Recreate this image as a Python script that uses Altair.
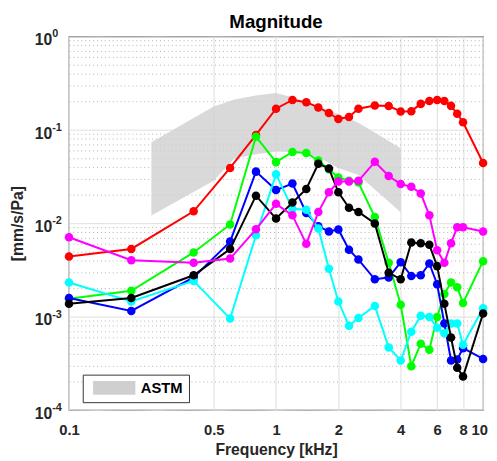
import altair as alt
import pandas as pd

# ---------------- data ----------------
freqs = [0.1, 0.2, 0.4, 0.6, 0.8, 1.0, 1.2, 1.4, 1.6, 1.8, 2.0, 2.25, 2.5,
         3.0, 3.5, 4.0, 4.5, 5.0, 5.5, 6.0, 6.5, 7.0, 7.5, 8.0, 10.0]

red = [0.0044, 0.0053, 0.0134, 0.039, 0.088, 0.168, 0.208, 0.197, 0.173, 0.151,
       0.130, 0.137, 0.168, 0.182, 0.179, 0.157, 0.158, 0.189, 0.203, 0.208,
       0.203, 0.180, 0.148, 0.120, 0.044]
green = [0.00155, 0.00189, 0.00486, 0.00968, 0.0843, 0.045, 0.0577, 0.0564, 0.0468,
         0.0377, 0.0308, 0.0284, 0.0272, 0.01164, 0.00377, 0.00134, 0.000295,
         0.000513, 0.000442, 0.000993, 0.00175, 0.00232, 0.00206, 0.0014, 0.00392]
blue = [0.00158, 0.00115, 0.00263, 0.00635, 0.0356, 0.0226, 0.0265, 0.01285, 0.00929,
        0.00813, 0.00857, 0.0052, 0.00408, 0.00251, 0.00262, 0.00382, 0.00272,
        0.00277, 0.0037, 0.00222, 0.000843, 0.000339, 0.000347, 0.00046, 0.000352]
cyan = [0.00232, 0.00145, 0.00241, 0.000953, 0.00741, 0.0333, 0.01426, 0.01393,
        0.00879, 0.00326, 0.00145, 0.000798, 0.000968, 0.0013, 0.000468, 0.000339,
        0.00069, 0.00102, 0.000993, 0.00076, 0.000662, 0.000843, 0.000843, 0.000499,
        0.00123]
black = [0.00137, 0.00158, 0.00277, 0.00528, 0.0197, 0.0112, 0.0166, 0.0232, 0.0432,
         0.0385, 0.0214, 0.0146, 0.0132, 0.00993, 0.00295, 0.00251, 0.00621, 0.00611,
         0.00586, 0.00347, 0.00137, 0.000597, 0.000284, 0.000228, 0.00108]
magenta = [0.00706, 0.00401, 0.00377, 0.00418, 0.00859, 0.0161, 0.01213, 0.00601,
           0.01315, 0.0214, 0.0279, 0.0279, 0.0284, 0.0453, 0.032, 0.0262, 0.0245,
           0.0208, 0.01213, 0.00513, 0.00377, 0.00611, 0.00902, 0.00902, 0.00813]

series_names = ["red", "green", "blue", "cyan", "black", "magenta"]
series_colors = ["#ff0000", "#00ff00", "#0000ff", "#00ffff", "#000000", "#ff00ff"]
series_values = [red, green, blue, cyan, black, magenta]

astm_f = [0.25, 0.5, 0.63, 0.8, 1.0, 1.25, 1.6, 2.0, 2.5, 4.0]
astm_hi = [0.0735, 0.177, 0.21, 0.233, 0.247, 0.217, 0.179, 0.147, 0.119, 0.0635]
astm_lo = [0.0121, 0.0284, 0.0495, 0.0546, 0.0586, 0.0573, 0.0507, 0.0389, 0.0328, 0.0131]
astm_label = "ASTM"

x_ticks = [0.1, 0.5, 1, 2, 4, 6, 8, 10]
y_decades = [1, 0.1, 0.01, 0.001, 0.0001]
y_exps = ["0", "-1", "-2", "-3", "-4"]
y_grid = [m * d for d in [0.0001, 0.001, 0.01, 0.1] for m in range(1, 10)] + [1.0]
chart_title = "Magnitude"

FONT = "Liberation Sans"
TXT = "#262626"

xscale = alt.Scale(type="log", domain=[0.1, 10], nice=False)
yscale = alt.Scale(type="log", domain=[0.0001, 1], nice=False)

major_test_y = "abs(log(datum.value)/LN10 - round(log(datum.value)/LN10)) < 0.001"

x_axis = alt.Axis(
    values=x_ticks,
    labelExpr="datum.value < 1 ? format(datum.value, '.1f') : format(datum.value, 'd')",
    grid=True, gridColor="#dcdcdc", gridWidth=1,
    ticks=False, domain=False,
    labelFont=FONT, labelFontSize=15, labelFontWeight="bold", labelColor=TXT,
    labelPadding=13, labelFlush=False,
    labelOffset={"condition": {"test": "datum.value >= 10", "value": -4}, "value": 0},
    title="Frequency [kHz]", titleFont=FONT, titleFontSize=16,
    titleFontWeight="bold", titleColor=TXT, titlePadding=4,
)
y_axis = alt.Axis(
    values=y_grid, labels=False, ticks=False, domain=False,
    grid=True,
    gridDash={"condition": {"test": major_test_y, "value": [1, 0]}, "value": [1, 3]},
    gridColor={"condition": {"test": major_test_y, "value": "#dcdcdc"}, "value": "#b4b4b4"},
    title="[mm/s/Pa]", titleFont=FONT, titleFontSize=16, titleFontWeight="bold",
    titleColor=TXT, titlePadding=44,
)

# ASTM band
astm_df = pd.DataFrame({"f": astm_f, "hi": astm_hi, "lo": astm_lo,
                        "label": [astm_label] * len(astm_f)})
band = alt.Chart(astm_df).mark_area(opacity=0.8).encode(
    x=alt.X("f:Q", scale=xscale, axis=x_axis),
    y=alt.Y("hi:Q", scale=yscale, axis=y_axis),
    y2="lo:Q",
    fill=alt.Fill("label:N",
                  scale=alt.Scale(domain=[astm_label], range=["#cfcfcf"]),
                  legend=alt.Legend(
                      title=None, orient="none", legendX=14, legendY=344,
                      strokeColor="#333333", fillColor="white", padding=6,
                      symbolType="M-1,-1H5.14V1H-1Z", symbolSize=196,
                      symbolStrokeWidth=0, symbolOpacity=1, symbolOffset=4,
                      labelFont=FONT, labelFontSize=15, labelFontWeight="bold",
                      labelColor="#000000", labelOffset=34)),
)

layers = [band]
for name, color, vals in zip(series_names, series_colors, series_values):
    d = pd.DataFrame({"f": freqs, "v": vals, "i": list(range(len(freqs)))})
    base = alt.Chart(d).encode(
        x=alt.X("f:Q", scale=xscale),
        y=alt.Y("v:Q", scale=yscale),
        order="i:Q",
    )
    layers.append(base.mark_line(color=color, strokeWidth=2))
    layers.append(base.mark_circle(color=color, size=75, opacity=1))

# y tick labels as 10 with superscript exponent
ylab = pd.DataFrame({"v": y_decades, "base": ["10"] * 5, "exp": y_exps})
lab_base = alt.Chart(ylab).mark_text(
    align="right", baseline="alphabetic", font=FONT, fontSize=16,
    fontWeight="bold", color=TXT, dy=9,
).encode(x=alt.value(-17), y=alt.Y("v:Q", scale=yscale), text="base:N")
lab_exp = alt.Chart(ylab).mark_text(
    align="left", baseline="alphabetic", font=FONT, fontSize=11,
    fontWeight="bold", color=TXT, dy=1,
).encode(x=alt.value(-17), y=alt.Y("v:Q", scale=yscale), text="exp:N")
title_txt = alt.Chart(pd.DataFrame({"t": [chart_title]})).mark_text(
    align="center", baseline="alphabetic", font=FONT, fontSize=19,
    fontWeight="bold", color="#000000",
).encode(x=alt.value(210.5), y=alt.value(-8), text="t:N")
layers += [lab_base, lab_exp, title_txt]

chart = alt.layer(*layers).properties(
    width=421, height=380,
    autosize=alt.AutoSizeParams(type="none"),
    padding={"left": 62, "top": 25, "right": 6, "bottom": 45},
).configure_view(stroke="#4a4a4a", strokeWidth=1.2)

chart.save("out.html", embed_options={"renderer": "svg", "actions": False})
